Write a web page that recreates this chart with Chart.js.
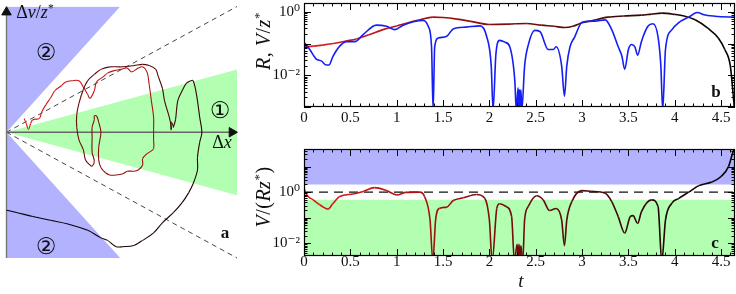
<!DOCTYPE html>
<html lang="en">
<head>
<meta charset="UTF-8">
<title>Pair separation and relative velocity</title>
<script src="https://cdn.jsdelivr.net/npm/chart.js"></script>
<style>
    body {
        margin: 0;
        width: 736px;
        height: 294px;
        position: relative;
        overflow: hidden;
        background: #fff;
        font-family: "Liberation Serif", "DejaVu Serif", serif;
        color: #111;
    }
    .box { position: absolute; }
    .lbl {
        position: absolute;
        white-space: nowrap;
        line-height: 1;
        transform: translate(-50%, -50%);
    }
    .rot { transform: translate(-50%, -50%) rotate(-90deg); letter-spacing: 0.5px; }
    .circ { font-family: "DejaVu Sans", sans-serif; font-size: 23px; }
    .tag { font-weight: bold; font-size: 17px; }
    sup { font-size: 65%; vertical-align: 0.55em; line-height: 0; }
</style>
</head>
<body>
    <div class="box" style="left:0;top:0;"><canvas id="phase" width="250" height="294"></canvas></div>
    <div class="box" style="left:250px;top:0;"><canvas id="panelB" width="486" height="140"></canvas></div>
    <div class="box" style="left:250px;top:140px;"><canvas id="panelC" width="486" height="154"></canvas></div>

    <div class="lbl" style="left:35px;top:12px;font-size:18px;">Δ<i>v</i>/<i>z</i><sup>*</sup></div>
    <div class="lbl" style="left:222px;top:142px;font-size:18px;">Δ<i>x</i></div>
    <div class="lbl circ" style="left:46px;top:52px;">②</div>
    <div class="lbl circ" style="left:46px;top:246px;">②</div>
    <div class="lbl circ" style="left:220px;top:110px;">①</div>
    <div class="lbl tag" style="left:225px;top:232px;">a</div>
    <div class="lbl tag" style="left:716px;top:91px;">b</div>
    <div class="lbl tag" style="left:715px;top:242px;">c</div>
    <div class="lbl rot" style="left:263px;top:41px;font-size:20px;"><i>R</i>, <i>V</i>/<i>z</i><sup>*</sup></div>
    <div class="lbl rot" style="left:263px;top:197px;font-size:20px;"><i>V</i>/(<i>Rz</i><sup>*</sup>)</div>
    <div class="lbl" style="left:521px;top:280px;font-size:19px;"><i>t</i></div>

<script>
// ---- panel a: trajectory in the (dx, dv/z*) plane ----
const trajX = [0.08, 0.09, 0.10, 0.11, 0.12, 0.15, 0.16, 0.18, 0.20, 0.22,
               0.25, 0.27, 0.30, 0.33, 0.35, 0.37, 0.38, 0.40, 0.41, 0.44,
               0.46, 0.49, 0.52, 0.55, 0.57, 0.60, 0.62, 0.64, 0.65, 0.66,
               0.67, 0.67, 0.67, 0.67, 0.65, 0.64, 0.62, 0.62, 0.60, 0.58,
               0.55, 0.53, 0.50, 0.47, 0.45, 0.43, 0.42, 0.42, 0.43, 0.42,
               0.41, 0.40, 0.40, 0.39, 0.39, 0.39, 0.40, 0.39, 0.38, 0.36,
               0.35, 0.33, 0.32, 0.32, 0.33, 0.35, 0.37, 0.40, 0.43, 0.47,
               0.52, 0.58, 0.62, 0.65, 0.68, 0.69, 0.71, 0.72, 0.74, 0.75,
               0.75, 0.75, 0.76, 0.76, 0.77, 0.78, 0.80, 0.82, 0.84, 0.85,
               0.86, 0.87, 0.88, 0.89, 0.88, 0.87, 0.87, 0.85, 0.83, 0.80,
               0.76, 0.71, 0.67, 0.62, 0.58, 0.53, 0.50, 0.46, 0.43, 0.37,
               0.28, 0.20, 0.12, 0.05, 0.00];
const trajY = [0.11, 0.07, 0.02, 0.07, 0.10, 0.11, 0.16, 0.22, 0.27, 0.33,
               0.37, 0.40, 0.41, 0.41, 0.36, 0.30, 0.27, 0.33, 0.40, 0.44,
               0.47, 0.49, 0.50, 0.51, 0.48, 0.51, 0.52, 0.48, 0.38, 0.25,
               0.12, 0.02, -0.06, -0.13, -0.16, -0.17, -0.21, -0.26, -0.30, -0.31,
               -0.31, -0.33, -0.34, -0.34, -0.32, -0.28, -0.22, -0.12, 0.00, 0.08,
               0.13, 0.13, 0.10, 0.04, -0.04, -0.16, -0.23, -0.27, -0.26, -0.22,
               -0.14, -0.06, 0.04, 0.14, 0.23, 0.34, 0.41, 0.46, 0.50, 0.52,
               0.52, 0.53, 0.54, 0.53, 0.50, 0.45, 0.35, 0.25, 0.13, 0.05,
               0.02, 0.08, 0.05, 0.04, 0.10, 0.25, 0.33, 0.39, 0.41, 0.41,
               0.35, 0.25, 0.12, 0.00, -0.08, -0.20, -0.30, -0.41, -0.48, -0.56,
               -0.64, -0.72, -0.80, -0.86, -0.90, -0.91, -0.91, -0.86, -0.84, -0.78,
               -0.73, -0.70, -0.67, -0.64, -0.62];
const dxMax = 1.05;          // right edge of panel a
const zoneTwoEdge = 0.518;   // where the region-2 wedges meet the top/bottom
const zoneOneHalf = 0.5;     // half opening of the region-1 wedge at dxMax

// ---- panel b: R(t) and V(t)/z* ----
const tR = [0, 0.1, 0.2, 0.315, 0.45, 0.566, 0.7, 0.853, 1.0, 1.14,
            1.25, 1.39, 1.5, 1.65, 1.8, 2.0, 2.2, 2.28, 2.4, 2.56,
            2.7, 2.815, 2.9, 3.0, 3.1, 3.28, 3.45, 3.64, 3.75, 3.86,
            4.0, 4.1, 4.22, 4.36, 4.47, 4.54, 4.6, 4.63, 4.645];
const R = [0.079, 0.083, 0.089, 0.10, 0.12, 0.14, 0.19, 0.275, 0.36, 0.47,
           0.56, 0.68, 0.66, 0.59, 0.50, 0.40, 0.41, 0.42, 0.43, 0.38,
           0.35, 0.32, 0.35, 0.45, 0.52, 0.68, 0.74, 0.79, 0.85, 0.91,
           0.83, 0.74, 0.56, 0.30, 0.15, 0.065, 0.0195, 0.0025, 0.0008];
const tV = [0, 0.062, 0.13, 0.19, 0.24, 0.27, 0.31, 0.385, 0.46, 0.55,
            0.64, 0.78, 0.89, 0.98, 1.07, 1.18, 1.285, 1.34, 1.376, 1.393,
            1.41, 1.45, 1.54, 1.61, 1.75, 1.90, 1.97, 2.02, 2.04, 2.07,
            2.11, 2.17, 2.22, 2.275, 2.29, 2.31, 2.315, 2.325, 2.33, 2.34,
            2.35, 2.38, 2.42, 2.49, 2.545, 2.635, 2.69, 2.72, 2.78, 2.81,
            2.835, 2.87, 2.92, 3.0, 3.14, 3.25, 3.32, 3.39, 3.43, 3.46,
            3.5, 3.535, 3.57, 3.6, 3.64, 3.71, 3.765, 3.82, 3.85, 3.87,
            3.9, 3.97, 4.04, 4.15, 4.24, 4.33, 4.47, 4.65];
const V = [0.11, 0.065, 0.033, 0.028, 0.021, 0.021, 0.038, 0.083, 0.115, 0.115,
           0.195, 0.38, 0.35, 0.275, 0.38, 0.49, 0.54, 0.35, 0.079, 0.0008,
           0.079, 0.15, 0.17, 0.29, 0.33, 0.36, 0.17, 0.0195, 0.0008, 0.045,
           0.126, 0.11, 0.079, 0.0063, 0.0008, 0.004, 0.001, 0.0035, 0.001, 0.0035,
           0.0008, 0.0195, 0.091, 0.26, 0.24, 0.065, 0.065, 0.079, 0.0195, 0.0022,
           0.0195, 0.079, 0.16, 0.47, 0.51, 0.56, 0.275, 0.079, 0.04, 0.0155,
           0.065, 0.093, 0.079, 0.043, 0.115, 0.35, 0.42, 0.16, 0.0195, 0.0008,
           0.065, 0.275, 0.45, 0.68, 0.95, 0.79, 0.71, 0.68];

// ---- panel c: V/(R z*) ----
const tW = [0, 0.03, 0.1, 0.17, 0.26, 0.31, 0.385, 0.53, 0.64, 0.76,
            0.89, 1.0, 1.1, 1.25, 1.30, 1.36, 1.39, 1.42, 1.46, 1.54,
            1.61, 1.72, 1.86, 1.95, 2.0, 2.03, 2.08, 2.11, 2.18, 2.24,
            2.27, 2.30, 2.31, 2.32, 2.33, 2.34, 2.36, 2.38, 2.42, 2.51,
            2.58, 2.65, 2.72, 2.78, 2.81, 2.835, 2.89, 3.0, 3.1, 3.25,
            3.32, 3.39, 3.46, 3.52, 3.55, 3.6, 3.64, 3.75, 3.82, 3.86,
            3.9, 3.97, 4.04, 4.15, 4.26, 4.4, 4.5, 4.58, 4.63, 4.65];
const W = [1.45, 0.78, 0.50, 0.32, 0.22, 0.35, 0.68, 0.85, 1.07, 1.5,
           1.15, 0.78, 0.98, 1.0, 0.68, 0.081, 0.002, 0.081, 0.23, 0.26,
           0.47, 0.60, 0.81, 0.58, 0.081, 0.002, 0.23, 0.35, 0.275, 0.11,
           0.002, 0.009, 0.003, 0.009, 0.003, 0.008, 0.002, 0.081, 0.275, 0.72,
           0.50, 0.19, 0.23, 0.081, 0.008, 0.081, 0.43, 1.15, 1.07, 0.91,
           0.43, 0.11, 0.025, 0.11, 0.12, 0.06, 0.17, 0.50, 0.275, 0.002,
           0.081, 0.37, 0.56, 1.0, 1.8, 2.5, 4.1, 10, 39, 56];
const bandHigh = 2;    // lower edge of the blue band
const bandLow = 0.5;   // upper edge of the green band
const tMax = 4.65;

// tick labels
const xTicks = [0, 0.5, 1, 1.5, 2, 2.5, 3, 3.5, 4, 4.5];
const yTicks = [0.01, 1];
const yTickText = { 0.01: '10⁻²', 1: '10⁰' };

const BLUE_FILL = 'rgb(178,178,255)';
const GREEN_FILL = 'rgb(178,255,178)';
const SERIF = "'Liberation Serif', 'DejaVu Serif', serif";

Chart.defaults.font.family = SERIF;
Chart.defaults.color = '#111';

// red at the start, black at the end
function trail(f) {
    f = Math.min(1, Math.max(0, f));
    const r = Math.round(225 * (1 - f)), g = Math.round(25 * (1 - f));
    return `rgb(${r},${g},${g})`;
}

function pts(xs, ys) {
    return xs.map((x, i) => ({ x: x, y: ys[i] }));
}

// frame and inward ticks like the original figure
const frameTicks = {
    id: 'frameTicks',
    afterDatasetsDraw(chart) {
        const { ctx, chartArea: a, scales: { x, y } } = chart;
        ctx.save();
        ctx.strokeStyle = '#000';
        ctx.lineWidth = 1;
        ctx.beginPath();
        for (let i = 0; i <= Math.floor(x.max * 10); i++) {
            const px = Math.round(x.getPixelForValue(i / 10)) + 0.5;
            const len = i % 5 === 0 ? 7 : 3.5;
            ctx.moveTo(px, a.bottom); ctx.lineTo(px, a.bottom - len);
            ctx.moveTo(px, a.top); ctx.lineTo(px, a.top + len);
        }
        const d0 = Math.floor(Math.log10(y.min)), d1 = Math.ceil(Math.log10(y.max));
        for (let d = d0; d <= d1; d++) {
            for (let k = 1; k < 10; k++) {
                const v = k * Math.pow(10, d);
                if (v < y.min || v > y.max) continue;
                const py = Math.round(y.getPixelForValue(v)) + 0.5;
                const len = k === 1 ? 7 : 3.5;
                ctx.moveTo(a.left, py); ctx.lineTo(a.left + len, py);
                ctx.moveTo(a.right, py); ctx.lineTo(a.right - len, py);
            }
        }
        ctx.stroke();
        ctx.lineWidth = 1.2;
        ctx.strokeRect(a.left + 0.5, a.top + 0.5, a.width - 1, a.height - 1);
        ctx.restore();
    }
};

function timeAxis(height, pad) {
    return {
        type: 'linear', min: 0, max: tMax,
        grid: { display: false, drawTicks: false, tickLength: 0 },
        border: { display: false },
        afterBuildTicks: s => { s.ticks = xTicks.map(v => ({ value: v })); },
        afterFit: s => { s.height = height; s.paddingLeft = 0; s.paddingRight = 0; },
        ticks: { font: { family: SERIF, size: 15 }, padding: pad, maxRotation: 0, autoSkip: false, callback: v => String(v) }
    };
}

function logAxis(min, max) {
    return {
        type: 'logarithmic', min: min, max: max,
        grid: { display: false, drawTicks: false, tickLength: 0 },
        border: { display: false },
        afterBuildTicks: s => { s.ticks = yTicks.map(v => ({ value: v })); },
        afterFit: s => { s.width = 54; s.paddingTop = 0; s.paddingBottom = 0; },
        ticks: { font: { family: SERIF, size: 15 }, padding: 4, autoSkip: false, callback: v => yTickText[v] }
    };
}

const common = {
    responsive: false,
    animation: false,
    devicePixelRatio: 1,
    events: [],
    plugins: { legend: { display: false }, tooltip: { enabled: false } },
    elements: { point: { radius: 0 } }
};

// panel a
const flat = { showLine: true, pointRadius: 0, borderWidth: 0, clip: false };
new Chart(document.getElementById('phase'), {
    type: 'scatter',
    data: {
        datasets: [
            { ...flat, order: 9, data: [{ x: 0, y: 0 }, { x: zoneTwoEdge, y: 1 }], fill: 'end', backgroundColor: BLUE_FILL },
            { ...flat, order: 9, data: [{ x: 0, y: 0 }, { x: zoneTwoEdge, y: -1 }], fill: 'start', backgroundColor: BLUE_FILL },
            { ...flat, order: 8, data: [{ x: 0, y: 0 }, { x: dxMax, y: zoneOneHalf }], fill: '+1', backgroundColor: GREEN_FILL },
            { ...flat, order: 8, data: [{ x: 0, y: 0 }, { x: dxMax, y: -zoneOneHalf }], fill: false },
            { ...flat, order: 7, data: [{ x: 0, y: 0 }, { x: dxMax, y: 1 }], borderWidth: 0.9, borderColor: '#333', borderDash: [5, 4] },
            { ...flat, order: 7, data: [{ x: 0, y: 0 }, { x: dxMax, y: -1 }], borderWidth: 0.9, borderColor: '#333', borderDash: [5, 4] },
            { ...flat, order: 6, data: [{ x: 0, y: 0 }, { x: 1.02, y: 0 }], borderWidth: 1.6, borderColor: '#666' },
            { ...flat, order: 6, data: [{ x: 0, y: -1 }, { x: 0, y: 0.96 }], borderWidth: 1.4, borderColor: '#777' },
            {
                ...flat, order: 2, data: pts(trajX, trajY), borderWidth: 1.1, tension: 0.35,
                segment: { borderColor: c => trail(c.p0DataIndex / (trajX.length - 1)) }
            },
            { showLine: false, clip: false, order: 1, data: [{ x: 1.027, y: 0 }], pointStyle: 'triangle', rotation: 90, pointRadius: 5.5, backgroundColor: '#111', borderColor: '#111', borderWidth: 1 },
            { showLine: false, clip: false, order: 1, data: [{ x: 0, y: 0.955 }], pointStyle: 'triangle', rotation: 0, pointRadius: 5.5, backgroundColor: '#111', borderColor: '#111', borderWidth: 1 }
        ]
    },
    options: {
        ...common,
        layout: { padding: { left: 6, top: 2, right: 13, bottom: 36 } },
        scales: {
            x: { type: 'linear', display: false, min: 0, max: dxMax },
            y: { type: 'linear', display: false, min: -1, max: 1 }
        }
    }
});

// panel b
new Chart(document.getElementById('panelB'), {
    type: 'line',
    data: {
        datasets: [
            {
                data: pts(tR, R), borderWidth: 1.6, cubicInterpolationMode: 'monotone', order: 2,
                segment: { borderColor: c => trail(c.p0.parsed.x / tMax) }
            },
            { data: pts(tV, V), borderColor: 'rgb(20,30,245)', borderWidth: 1.6, cubicInterpolationMode: 'monotone', order: 1 }
        ]
    },
    options: {
        ...common,
        layout: { padding: { top: 3, right: 1 } },
        scales: { x: timeAxis(33, 2), y: logAxis(0.001, 1.9) }
    },
    plugins: [frameTicks]
});

// panel c
new Chart(document.getElementById('panelC'), {
    type: 'line',
    data: {
        datasets: [
            { data: [{ x: 0, y: bandHigh }, { x: tMax, y: bandHigh }], fill: 'end', backgroundColor: BLUE_FILL, borderWidth: 0, order: 5 },
            { data: [{ x: 0, y: bandLow }, { x: tMax, y: bandLow }], fill: 'start', backgroundColor: GREEN_FILL, borderWidth: 0, order: 5 },
            { data: [{ x: 0, y: 1 }, { x: tMax, y: 1 }], borderColor: '#111', borderWidth: 1.2, borderDash: [9, 6], order: 3 },
            {
                data: pts(tW, W), borderWidth: 1.6, cubicInterpolationMode: 'monotone', order: 1,
                segment: { borderColor: c => trail(c.p0.parsed.x / tMax) }
            }
        ]
    },
    options: {
        ...common,
        layout: { padding: { top: 9, right: 1 } },
        scales: { x: timeAxis(38, -3), y: logAxis(0.00316, 49) }
    },
    plugins: [frameTicks]
});
</script>
</body>
</html>
